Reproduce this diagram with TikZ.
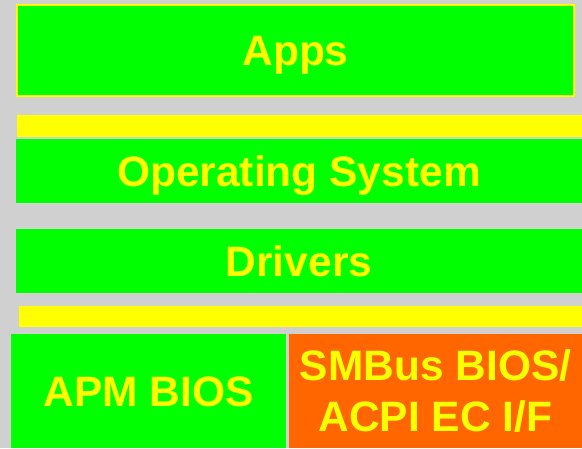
\documentclass[tikz,border=0pt]{standalone}
\usepackage{fontspec}
\setmainfont{Liberation Sans}
\definecolor{bg}{RGB}{208,208,208}
\definecolor{lgreen}{RGB}{0,255,0}
\definecolor{lyellow}{RGB}{255,255,0}
\definecolor{lorange}{RGB}{255,102,0}
\begin{document}
\begin{tikzpicture}[x=1pt,y=-1pt,
  layer/.style={inner sep=0pt, outer sep=0pt, anchor=north west, fill=lgreen,
    text=lyellow, font=\fontsize{42.5}{51}\selectfont\bfseries,
    text height=30.4pt, text depth=0pt},
  bar/.style={inner sep=0pt, outer sep=0pt, anchor=north west, fill=lyellow}]
\fill[bg] (0,0) rectangle (582,448);
\useasboundingbox (0,0) rectangle (582,448);
\node[layer, draw=lyellow, line width=2pt, minimum width=557pt, minimum height=91pt] (apps) at (17,5) {Apps};
\node[bar, minimum width=565pt, minimum height=22pt] (bar1) at (17,115) {};
\node[layer, minimum width=566pt, minimum height=64pt] (os) at (16,139) {Operating System};
\node[layer, minimum width=566pt, minimum height=64pt] (drv) at (16,229) {Drivers};
\node[bar, minimum width=563pt, minimum height=21pt] (bar2) at (19,306) {};
\node[layer, minimum width=275pt, minimum height=114pt] (apm) at (11,334) {APM BIOS};
\node[layer, fill=lorange, minimum width=293pt, minimum height=114pt, align=center, text height=, text depth=] (smb) at (289,334) {SMBus BIOS/\\ACPI EC I/F};
\end{tikzpicture}
\end{document}
